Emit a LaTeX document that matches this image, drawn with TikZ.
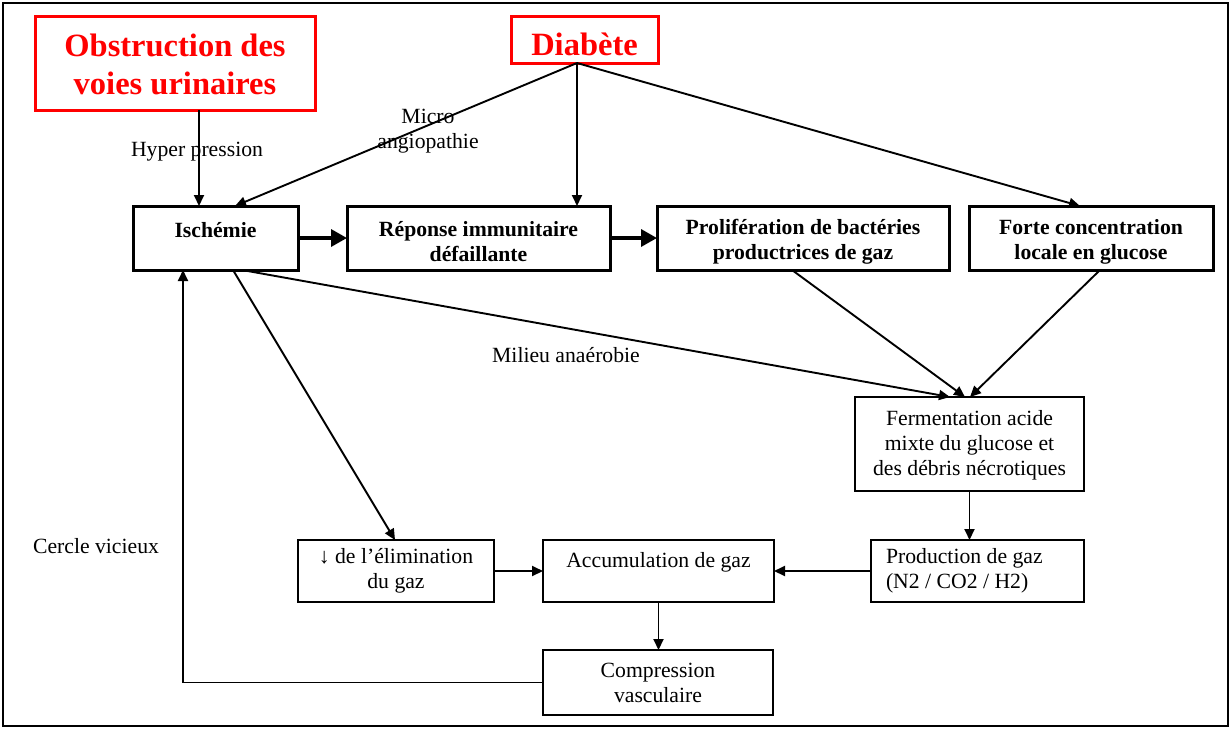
\documentclass[tikz,border=0pt]{standalone}
\usepackage{fontspec}
\setmainfont{Liberation Serif}
\usetikzlibrary{arrows.meta,calc}
\newcommand{\upstrut}[1]{\rule{0pt}{#1}}
\begin{document}
\begin{tikzpicture}[x=1pt,y=-1pt,
  every node/.style={font=\fontsize{21.7}{25}\selectfont, inner sep=0pt, outer sep=0pt},
  topbox/.style={draw, line width=3pt, minimum height=64pt, align=center, font=\fontsize{21.7}{25}\selectfont\bfseries},
  redbox/.style={draw=red, text=red, line width=3pt, align=center, font=\fontsize{32.5}{38}\selectfont\bfseries},
  lowbox/.style={draw, line width=1.7pt, align=center},
  conn/.style={line width=1.9pt, -{Triangle[length=11pt,width=10pt]}},
  thickconn/.style={line width=3.4pt, -{Triangle[length=16pt,width=17pt]}},
  lbl/.style={align=center}
]
\useasboundingbox (0,0) rectangle (1231,729);
\draw[line width=2.4pt] (3,3) rectangle (1228,726);

\node[redbox, minimum width=280pt, minimum height=94pt] (obs) at (175,63) {\upstrut{26pt}Obstruction des\\voies urinaires};
\node[redbox, minimum width=147pt, minimum height=47pt] (dia) at (584.5,39.5) {\upstrut{32pt}Diabète};

\node[topbox, minimum width=165pt] (isch) at (215.5,238) {\upstrut{23pt}Ischémie\\\mbox{}};
\node[topbox, minimum width=263pt] (rep) at (478.5,238) {\upstrut{23pt}Réponse immunitaire\\défaillante};
\node[topbox, minimum width=292pt] (pro) at (803,238) {\upstrut{23pt}Prolifération de bactéries\\productrices de gaz};
\node[topbox, minimum width=244pt] (forte) at (1091,238) {\upstrut{23pt}Forte concentration\\locale en glucose};

\node[lowbox, minimum width=229pt, minimum height=94pt] (ferm) at (969.5,444) {\upstrut{17pt}Fermentation acide\\mixte du glucose et\\des débris nécrotiques};
\node[lowbox, text width=183pt, inner xsep=15pt, minimum height=62pt, align=flush left] (prod) at (977.5,571) {Production de gaz\\(N2 / CO2 / H2)};
\node[lowbox, minimum width=231pt, minimum height=62pt] (acc) at (658.5,571) {\upstrut{17pt}Accumulation de gaz\\\mbox{}};
\node[lowbox, minimum width=196pt, minimum height=62pt] (elim) at (396,571) {↓ de l’élimination\\du gaz};
\node[lowbox, minimum width=230pt, minimum height=65pt] (comp) at (658,682.5) {Compression\\vasculaire};

\node (lhyp) at (197,152) {Hyper pression};
\node[lbl] (lmic) at (428,131.5) {Micro\\angiopathie};
\node (lmil) at (566,355) {Milieu anaérobie};
\node (lcer) at (96,546) {Cercle vicieux};

\draw[conn] ([xshift=24pt]obs.south) -- ([xshift=24pt]obs.south |- isch.north);
\coordinate (dtip) at ([xshift=-7.5pt]dia.south);
\draw[conn] (dtip) -- ([xshift=19.5pt]isch.north);
\draw[conn] (dtip) -- (dtip |- rep.north);
\draw[conn] (dtip) -- ([xshift=-11pt]forte.north);
\draw[thickconn] (isch.east) -- (rep.west);
\draw[thickconn] (rep.east) -- (pro.west);
\draw[conn] ([xshift=17.5pt]isch.south) -- ([xshift=-1pt]elim.north);
\draw[conn] ([xshift=26.5pt]isch.south) -- ([xshift=-19.5pt]ferm.north);
\draw[conn] ([xshift=-11pt]pro.south) -- ([xshift=-4.5pt]ferm.north);
\draw[conn] ([xshift=9pt]forte.south) -- ([xshift=0.5pt]ferm.north);
\draw[conn] (ferm.south) -- (ferm.south |- prod.north);
\draw[conn] (prod.west) -- (acc.east);
\draw[conn] (elim.east) -- (acc.west);
\draw[conn] (acc.south) -- (acc.south |- comp.north);
\draw[conn] (comp.west) -| ([xshift=-32.5pt]isch.south);
\end{tikzpicture}
\end{document}
